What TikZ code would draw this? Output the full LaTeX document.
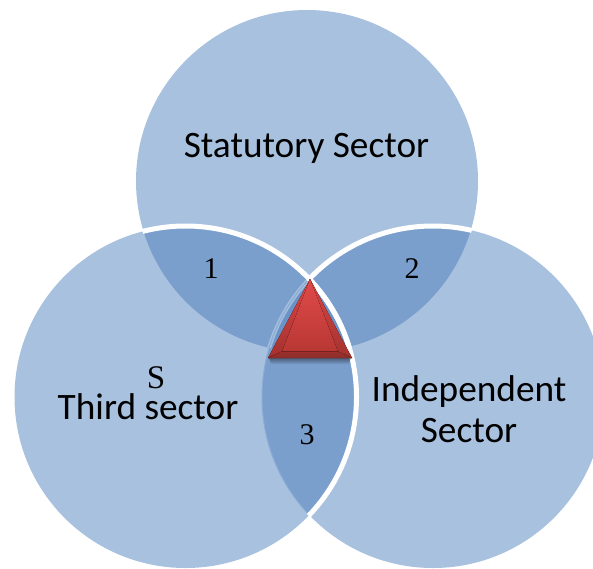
\documentclass[tikz,border=0pt]{standalone}
\usepackage{fontspec}
\usetikzlibrary{calc}
\setmainfont{Carlito}
\newfontfamily\serifnum{Liberation Serif}
\definecolor{basefill}{HTML}{A8C1DF}
\definecolor{lensfill}{HTML}{7B9FCD}
\definecolor{corefill}{HTML}{6A93C8}
\definecolor{ringpale}{HTML}{A3BDDD}
\definecolor{ringsoft}{HTML}{8AABD4}
\definecolor{triedge}{HTML}{8A2E2A}
\definecolor{trimid}{HTML}{B93834}
\definecolor{trilight}{HTML}{E04A4A}
\begin{document}
\begin{tikzpicture}[x=1pt,y=-1pt,
  sector/.style={font=\fontsize{37.3}{41}\selectfont,align=center,text=black},
  numeral/.style={font=\serifnum\fontsize{30}{36}\selectfont,text=black},
  ring/.style={line width=5pt,white}]
\useasboundingbox (0,0) rectangle (593,568);
\clip (0,0) rectangle (593,568);
\def\R{171}
\coordinate (T) at (307,181);
\coordinate (L) at (185.5,397);
\coordinate (B) at (433,397);
% base discs
\fill[basefill] (T) circle[radius=\R];
\fill[basefill] (L) circle[radius=\R];
\fill[basefill] (B) circle[radius=\R];
% pairwise overlaps
\begin{scope}\clip (L) circle[radius=\R]; \fill[lensfill] (T) circle[radius=\R]; \fill[lensfill] (B) circle[radius=\R];\end{scope}
\begin{scope}\clip (T) circle[radius=\R]; \fill[lensfill] (B) circle[radius=\R];\end{scope}
% triple overlap
\begin{scope}\clip (T) circle[radius=\R]; \clip (L) circle[radius=\R]; \fill[corefill] (B) circle[radius=\R];\end{scope}
% faint ring of the lower right disc inside the left disc
\begin{scope}\clip (L) circle[radius=\R];
  \begin{scope}\clip (T) circle[radius=\R]; \draw[line width=4pt,ringpale] (B) circle[radius=\R];\end{scope}
  \draw[line width=1pt,ringsoft] (B) circle[radius=\R];
\end{scope}
% white rings
\begin{scope}[even odd rule]
  \clip (-5,-5) rectangle (600,575) (L) circle[radius=\R];
  \begin{scope}\clip (T) circle[radius=\R+1]; \draw[ring] (B) circle[radius=\R];\end{scope}
\end{scope}
\begin{scope}\clip (T) circle[radius=\R+1]; \draw[ring] (L) circle[radius=\R];\end{scope}
\begin{scope}\clip (B) circle[radius=\R+1]; \draw[ring] (L) circle[radius=\R];\end{scope}
% triangle
\coordinate (apex) at (310,279);
\coordinate (bl) at (268,358);
\coordinate (br) at (352,358);
\coordinate (iapex) at (310,296);
\coordinate (ibl) at (282,351.5);
\coordinate (ibr) at (338,351.5);
\foreach \i in {1,...,6}{
  \fill[black,opacity=0.07] ($(bl)+(\i*0.3,0)$) -- ($(br)+(-\i*0.3,0)$) -- ($(br)+(-\i*0.3-1,\i)$) -- ($(bl)+(\i*0.3+1,\i)$) -- cycle;
}
\fill[trimid] (apex) -- (br) -- (bl) -- cycle;
\fill[top color=trilight!85!trimid,bottom color=trimid!88!black] (apex) -- (ibl) -- (bl) -- cycle;
\fill[top color=trilight!85!trimid,bottom color=trimid!88!black] (apex) -- (ibr) -- (br) -- cycle;
\fill[top color=trilight,bottom color=trimid] (apex) -- (ibr) -- (ibl) -- cycle;
\fill[top color=trimid!85!black,bottom color=triedge] (bl) -- (br) -- (ibr) -- (ibl) -- cycle;
% labels
\node[sector] (stat) at (306.5,148) {Statutory Sector};
\node[sector] (third) at (148,407) {Third sector};
\node[sector] (indep) at (469,409) {Independent\\Sector};
\node[numeral] (one) at (211,269) {1};
\node[numeral] (two) at (412,269) {2};
\node[numeral] (three) at (307,435) {3};
\node[numeral,font=\serifnum\fontsize{33}{36}\selectfont] (ess) at (156,378) {S};
\end{tikzpicture}
\end{document}
